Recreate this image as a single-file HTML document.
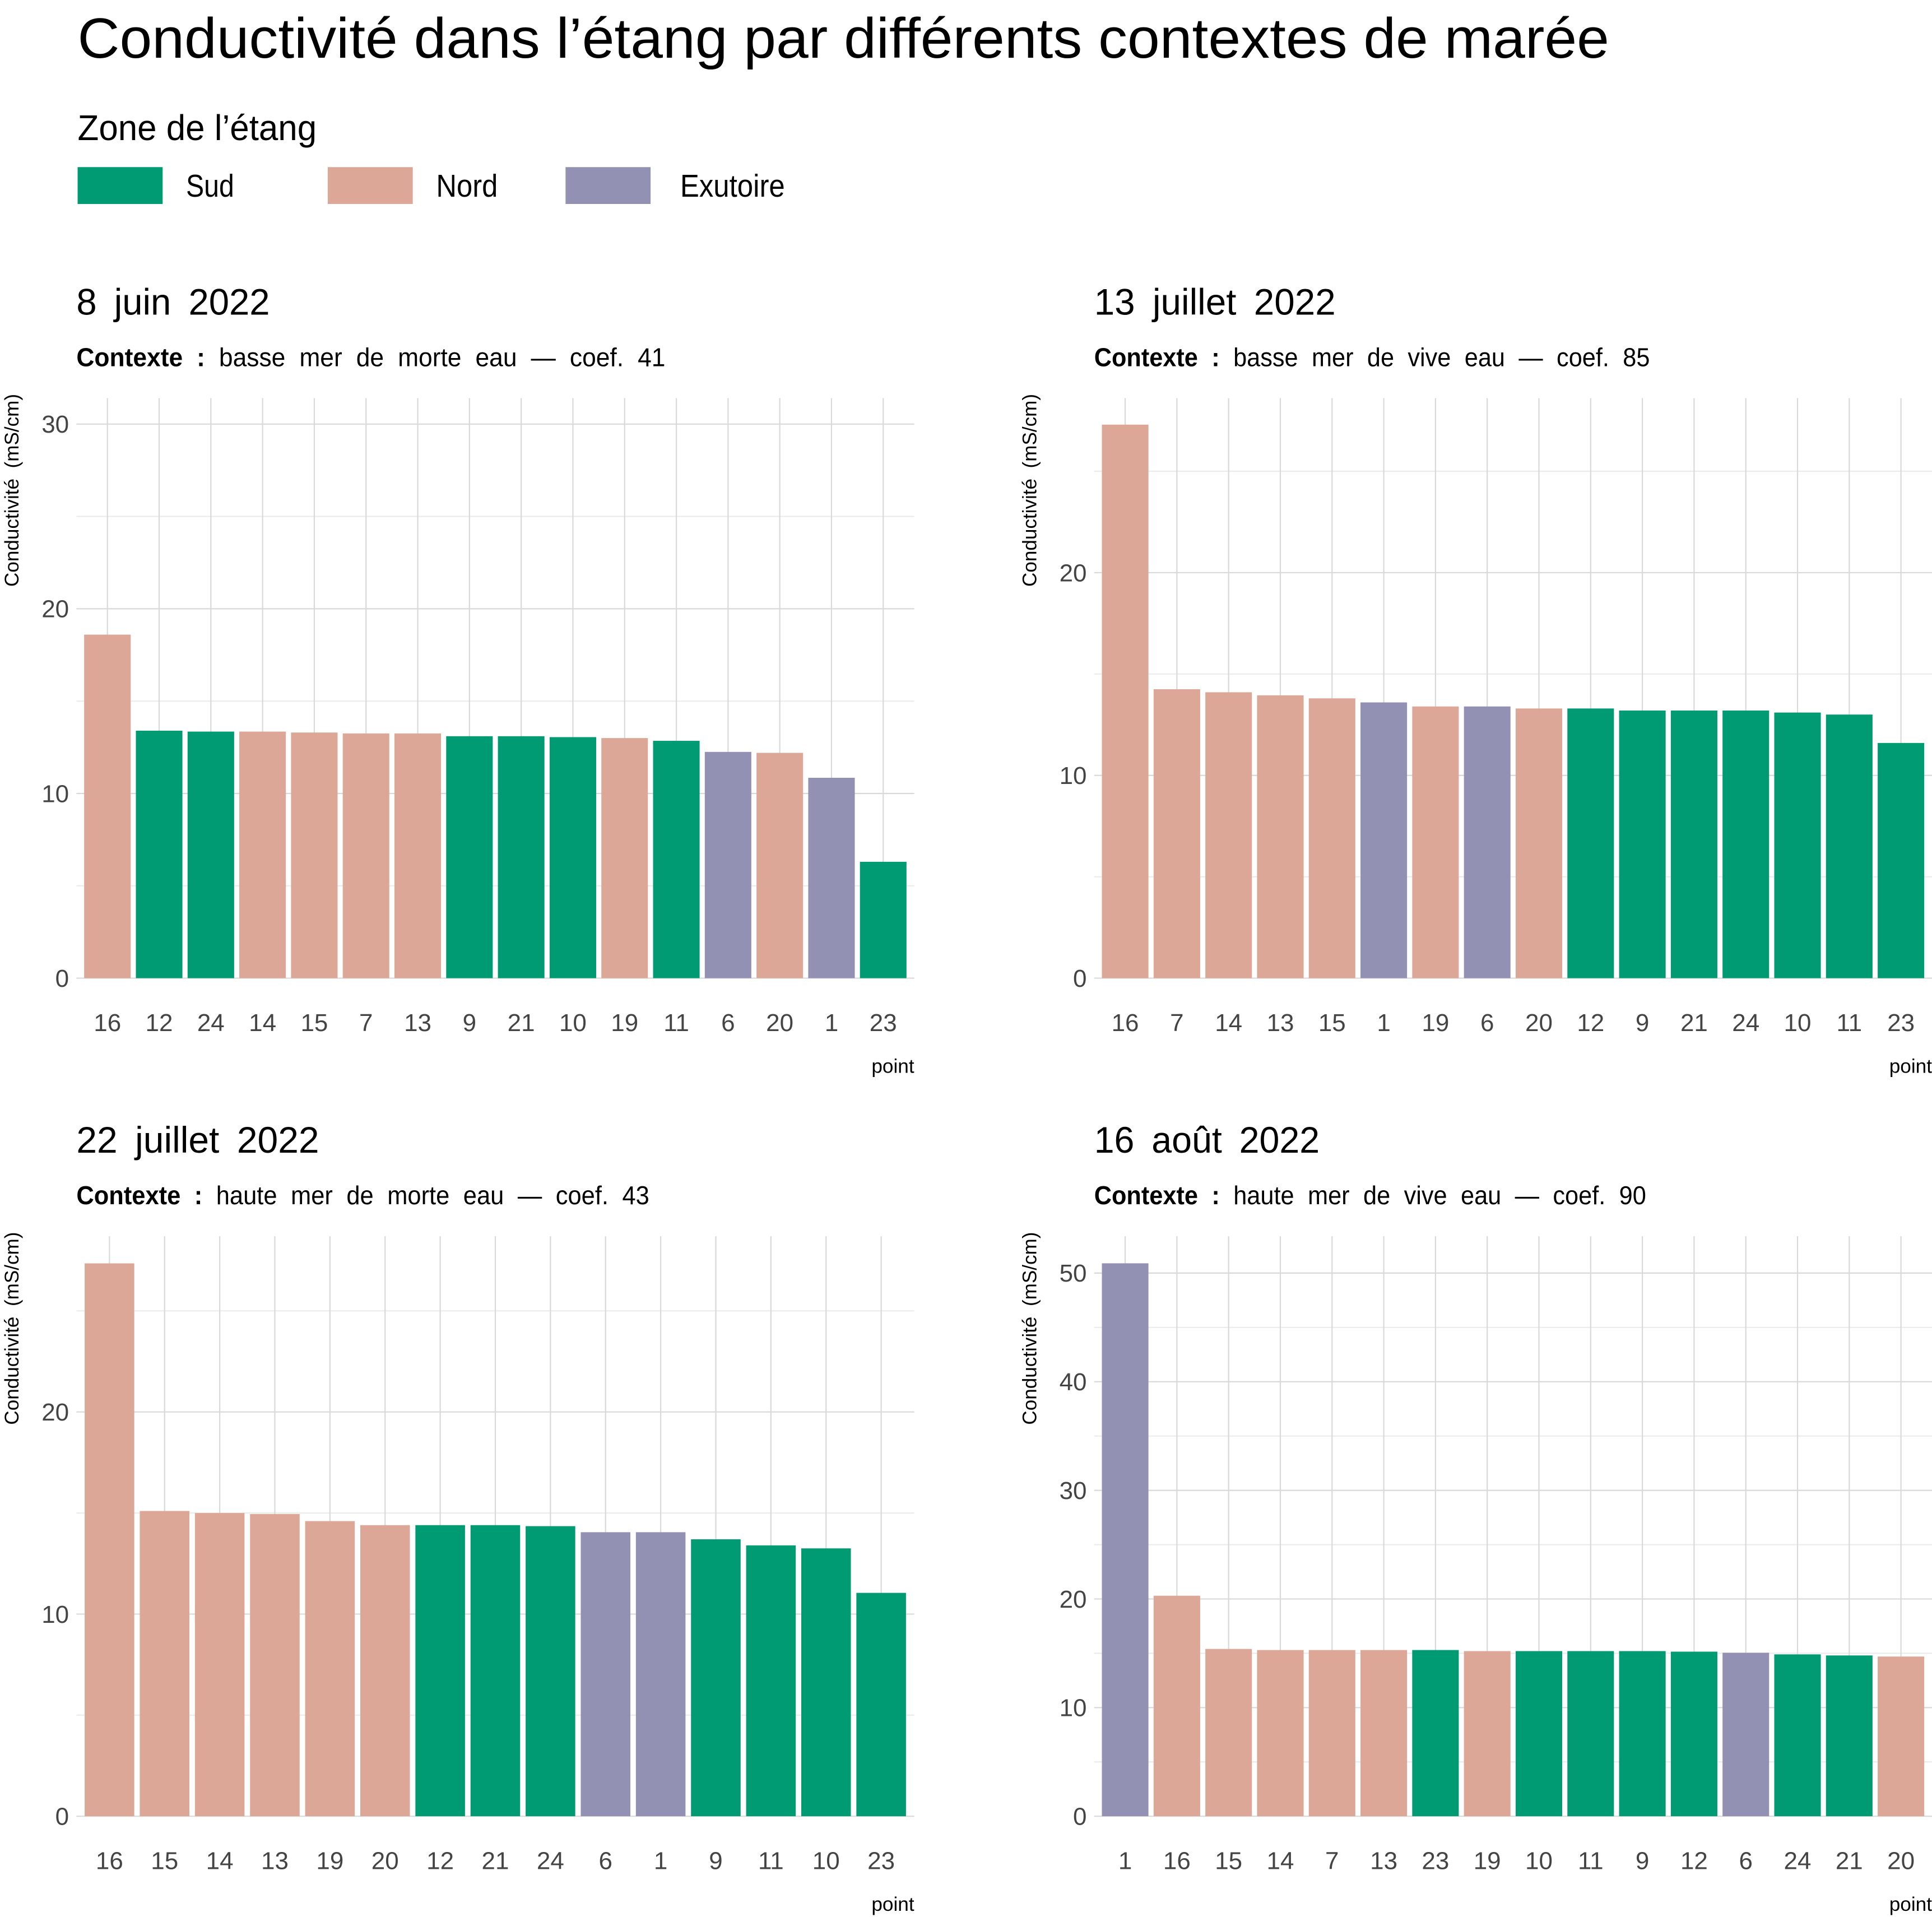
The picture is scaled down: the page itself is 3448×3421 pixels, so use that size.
<!DOCTYPE html>
<html><head><meta charset="utf-8"><style>
html,body{margin:0;padding:0;background:#fff}
svg{display:block}
text{font-family:"Liberation Sans Narrow","Liberation Sans",sans-serif;}
</style></head><body>
<svg id="chart" width="3448" height="3421" viewBox="0 -2 1568 1560" preserveAspectRatio="none" xmlns="http://www.w3.org/2000/svg">
<text x="63" y="45" font-size="46" fill="#000" textLength="1243" lengthAdjust="spacingAndGlyphs">Conductivité dans l’étang par différents contextes de marée</text>
<text x="63" y="112" font-size="29" fill="#000" textLength="194" lengthAdjust="spacingAndGlyphs">Zone de l’étang</text>
<g><rect x="63" y="134" width="69" height="30" fill="#009B72"/><text x="151" y="158" font-size="26" textLength="39" lengthAdjust="spacingAndGlyphs">Sud</text></g>
<g><rect x="266" y="134" width="69" height="30" fill="#DCA797"/><text x="354" y="158" font-size="26" textLength="50" lengthAdjust="spacingAndGlyphs">Nord</text></g>
<g><rect x="459" y="134" width="69" height="30" fill="#9391B3"/><text x="552" y="158" font-size="26" textLength="85" lengthAdjust="spacingAndGlyphs">Exutoire</text></g>
<g id="panels"></g>
</svg>
<script>
const colorsMap={S:"#009B72",N:"#DCA797",E:"#9391B3"};
const p1Points=["16","12","24","14","15","7","13","9","21","10","19","11","6","20","1","23"];
const p1Values=[18.6,13.4,13.35,13.35,13.3,13.25,13.25,13.1,13.1,13.05,13.0,12.85,12.25,12.2,10.85,6.3];
const p1Zones=["N","S","S","N","N","N","N","S","S","S","N","S","E","N","E","S"];
const p1Ticks=[0,10,20,30];
const p2Points=["16","7","14","13","15","1","19","6","20","12","9","21","24","10","11","23"];
const p2Values=[27.3,14.25,14.1,13.95,13.8,13.6,13.4,13.4,13.3,13.3,13.2,13.2,13.2,13.1,13.0,11.6];
const p2Zones=["N","N","N","N","N","E","N","E","N","S","S","S","S","S","S","S"];
const p2Ticks=[0,10,20];
const p3Points=["16","15","14","13","19","20","12","21","24","6","1","9","11","10","23"];
const p3Values=[27.35,15.1,15.0,14.95,14.6,14.4,14.4,14.4,14.35,14.05,14.05,13.7,13.4,13.25,11.05];
const p3Zones=["N","N","N","N","N","N","S","S","S","E","E","S","S","S","S"];
const p3Ticks=[0,10,20];
const p4Points=["1","16","15","14","7","13","23","19","10","11","9","12","6","24","21","20"];
const p4Values=[50.9,20.3,15.4,15.3,15.3,15.3,15.3,15.2,15.2,15.2,15.2,15.15,15.05,14.9,14.8,14.7];
const p4Zones=["E","N","N","N","N","N","S","N","S","S","S","S","E","S","S","N"];
const p4Ticks=[0,10,20,30,40,50];

const NS="http://www.w3.org/2000/svg";
const root=document.getElementById("panels");
function mk(tag,attrs,parent){const e=document.createElementNS(NS,tag);for(const k in attrs)e.setAttribute(k,attrs[k]);(parent||root).appendChild(e);return e;}

function panel(cfg,points,values,zones,ticks){
  const g=mk("g",{});
  
  
  const x0=cfg.x0,x1=cfg.x0+680,base=cfg.base,top=cfg.top;
  const n=points.length, step=680/(n+0.2);
  const xs=i=>x0+(i+0.6)*step;
  const ys=v=>base-v*cfg.ppu;
  const t=mk("text",{x:cfg.x0,y:cfg.titleY,"font-size":30,fill:"#000","word-spacing":"6",textLength:cfg.tw,lengthAdjust:"spacingAndGlyphs"},g);
  t.textContent=cfg.title;
  
  
  const s=mk("text",{x:cfg.x0,y:cfg.titleY+42,"font-size":21,fill:"#000","word-spacing":"6",textLength:cfg.sw,lengthAdjust:"spacingAndGlyphs"},g);
  s.innerHTML='<tspan font-weight="bold">Contexte :</tspan> '+cfg.sub;
  
  
  const mstep=ticks[1]-ticks[0];
  for(let v=mstep/2; ys(v)>=top; v+=mstep){mk("line",{x1:x0,x2:x1,y1:ys(v),y2:ys(v),stroke:"#ebebeb","stroke-width":1},g);}
  for(let i=0;i<n;i++){mk("line",{x1:xs(i),x2:xs(i),y1:top,y2:base,stroke:"#d9d9d9","stroke-width":1},g);}
  ticks.forEach(v=>{
    mk("line",{x1:x0,x2:x1,y1:ys(v),y2:ys(v),stroke:"#d9d9d9","stroke-width":1},g);
    const tl=mk("text",{x:x0-6,y:ys(v)+7,"font-size":20,fill:"#444","text-anchor":"end"},g);
    tl.textContent=v;
    
    
  });
  for(let i=0;i<n;i++){
    const w=step*0.9;
    const r=mk("rect",{x:xs(i)-w/2,y:ys(values[i]),width:w,height:values[i]*cfg.ppu,fill:colorsMap[zones[i]]},g);
    
    
    const xl=mk("text",{x:xs(i),y:base+43,"font-size":20,fill:"#444","text-anchor":"middle"},g);
    xl.textContent=points[i];
    
    
  }
  const xt=mk("text",{x:x1,y:base+77,"font-size":16,fill:"#000","text-anchor":"end"},g);
  xt.textContent="point";
  
  
  const yt=mk("text",{x:0,y:0,"font-size":16,fill:"#000","text-anchor":"middle","word-spacing":"4",transform:`translate(${x0-47},${top+75}) rotate(-90)`},g);
  yt.textContent="Conductivité (mS/cm)";
  
  
}
panel({name:"panel-8-juin",x0:62,base:794,top:322,ppu:15.03,titleY:254,tw:157,sw:478,title:"8 juin 2022",sub:"basse mer de morte eau  — coef. 41"},p1Points,p1Values,p1Zones,p1Ticks);
panel({name:"panel-13-juillet",x0:888,base:794,top:322,ppu:16.5,titleY:254,tw:196,sw:451,title:"13 juillet 2022",sub:"basse mer de vive eau — coef. 85"},p2Points,p2Values,p2Zones,p2Ticks);
panel({name:"panel-22-juillet",x0:62,base:1476,top:1004,ppu:16.45,titleY:936,tw:197,sw:465,title:"22 juillet 2022",sub:"haute mer de morte eau — coef. 43"},p3Points,p3Values,p3Zones,p3Ticks);
panel({name:"panel-16-aout",x0:888,base:1476,top:1004,ppu:8.84,titleY:936,tw:183,sw:448,title:"16 août 2022",sub:"haute mer de vive eau — coef. 90"},p4Points,p4Values,p4Zones,p4Ticks);
</script>
</body></html>
